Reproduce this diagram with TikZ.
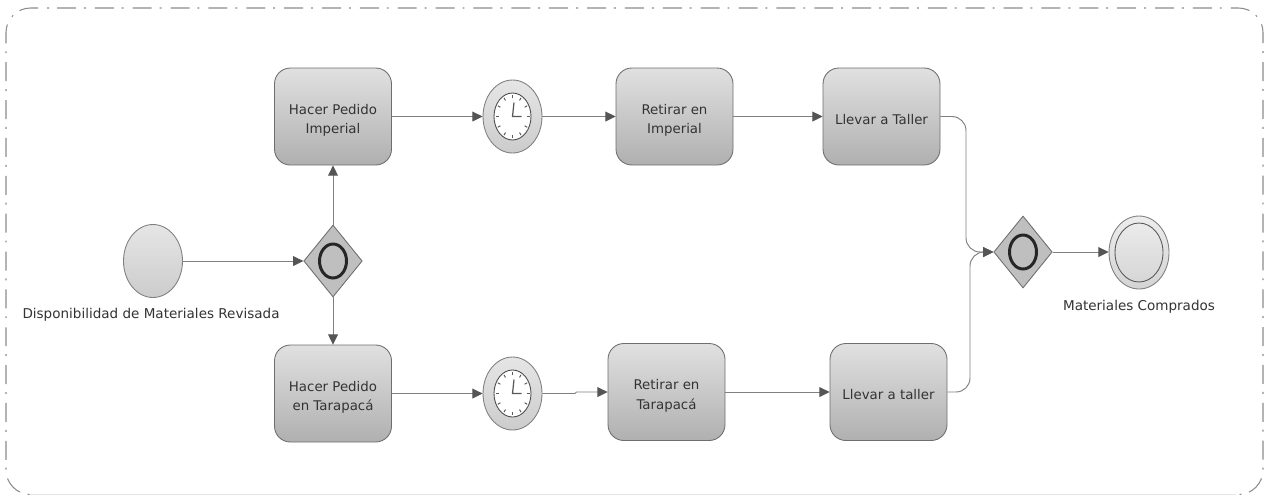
\documentclass[tikz,border=0pt]{standalone}
\usepackage{fontspec}
\setmainfont{DejaVu Sans}
\usetikzlibrary{arrows.meta,shapes.geometric}

\definecolor{linegray}{HTML}{808080}
\definecolor{tipgray}{HTML}{555555}
\definecolor{edgegray}{HTML}{6E6E6E}
\definecolor{textgray}{HTML}{333333}

\tikzset{
    flow/.style={draw=linegray, line width=0.55pt, -{Triangle[length=5.8pt,width=5.6pt,color=tipgray]}},
    frameline/.style={black!45, line width=0.6pt, rounded corners=14pt, dash pattern=on 10.8pt off 4.5pt on 1.1pt off 5.15pt},
    task/.style={draw=edgegray, line width=0.5pt, rounded corners=9pt, minimum width=2.34cm, minimum height=1.94cm,
        top color=black!12, bottom color=black!31, align=center, font=\fontsize{7.6}{11.3}\selectfont, text=textgray,
        text height=9pt},
    tasktwo/.style={task, text height=21.4pt},
    gate/.style={diamond, draw=edgegray, line width=0.5pt, fill=black!25, inner sep=0pt, minimum width=1.17cm, minimum height=1.44cm},
    gatering/.style={ellipse, draw=black!85, line width=1.7pt, inner sep=0pt, minimum width=0.54cm, minimum height=0.68cm},
    event/.style={ellipse, draw=black!50, line width=0.5pt, inner sep=0pt, minimum width=1.18cm, minimum height=1.46cm,
        top color=black!10, bottom color=black!20},
    face/.style={ellipse, draw=black!70, line width=0.5pt, fill=white, inner sep=0pt, minimum width=0.74cm, minimum height=0.94cm},
    endring/.style={ellipse, draw=black!65, line width=0.5pt, inner sep=0pt, minimum width=0.96cm, minimum height=1.18cm},
    caption/.style={font=\fontsize{7.7}{11.3}\selectfont, text=textgray}
}

\begin{document}
\begin{tikzpicture}[x=0.02cm, y=-0.02cm]
    \useasboundingbox (0,0) rectangle (1270,495);

    % Draw outer frame
    \draw[frameline] (57,8) -- (1263,8) -- (1263,494.5) -- (1236,494.5);
    \draw[frameline, dash phase=10.8pt] (57,8) -- (6,8) -- (6,494.5) -- (30,494.5);
    \draw[black!10, line width=0.5pt] (30,494.7) -- (1236,494.7);

    % Draw events and gateways
    \node[event] (start) at (153,261) {};
    \node[gate] (gwA) at (333,261) {};
    \node[gatering] (gwAring) at (333,261) {};
    \node[gate] (gwB) at (1023,252) {};
    \node[gatering] (gwBring) at (1023,252) {};
    \node[event, minimum width=1.2cm, top color=black!7, bottom color=black!17] (finish) at (1139,252.5) {};
    \node[endring] (finishring) at (1139,252.5) {};

    % Draw tasks
    \node[tasktwo] (pedImperial) at (333,116.5) {Hacer Pedido\\Imperial};
    \node[tasktwo] (retImperial) at (674.5,116.5) {Retirar en\\Imperial};
    \node[task] (tallerA) at (881.5,116.5) {Llevar a Taller};
    \node[tasktwo] (pedTarapaca) at (333,393.5) {Hacer Pedido\\en Tarapacá};
    \node[tasktwo] (retTarapaca) at (666.5,392) {Retirar en\\Tarapacá};
    \node[task] (tallerB) at (888.5,392) {Llevar a taller};

    % Draw timers
    \node[event] (timerA) at (512.5,116.5) {};
    \node[event] (timerB) at (512.5,393.5) {};
    \node[face] (faceA) at (timerA) {};
    \node[face] (faceB) at (timerB) {};
    \foreach \c in {timerA,timerB}{
        \begin{scope}[shift={(\c)}]
            \foreach \a in {0,30,...,330}
                \draw[black!65, line width=0.55pt] (\a:14 and 18.5) -- (\a:17 and 21.5);
            \draw[black!65, line width=0.7pt] (1.5,-14) -- (0,0) -- (9,0);
        \end{scope}
    }

    % Draw labels
    \node[caption] (startlabel) at (151,314.5) {Disponibilidad de Materiales Revisada};
    \node[caption] (finishlabel) at (1139,306.5) {Materiales Comprados};

    % Bend points
    \coordinate (upA) at (966,116.5);
    \coordinate (upB) at (966,252);
    \coordinate (loA) at (970,392);
    \coordinate (loB) at (970,252);
    \coordinate (jogA) at (575,393.5);
    \coordinate (jogB) at (576.5,392);

    % Draw connectors
    \draw[flow] (start) -- (gwA);
    \draw[flow] (gwA) -- (pedImperial);
    \draw[flow] (gwA) -- (pedTarapaca);
    \draw[flow] (pedImperial) -- (timerA);
    \draw[flow] (timerA) -- (retImperial);
    \draw[flow] (retImperial) -- (tallerA);
    \draw[flow] (pedTarapaca) -- (timerB);
    \draw[flow] (timerB.east) -- (jogA) -- (jogB) -- (retTarapaca.west);
    \draw[flow] (retTarapaca.east) -- (tallerB.west);
    \draw[flow, rounded corners=8pt] (tallerA.east) -- (upA) -- (upB) -- (gwB.west);
    \draw[flow, rounded corners=8pt] (tallerB.east) -- (loA) -- (loB) -- (gwB.west);
    \draw[flow] (gwB.east) -- (finish.west |- gwB.east);
\end{tikzpicture}
\end{document}
